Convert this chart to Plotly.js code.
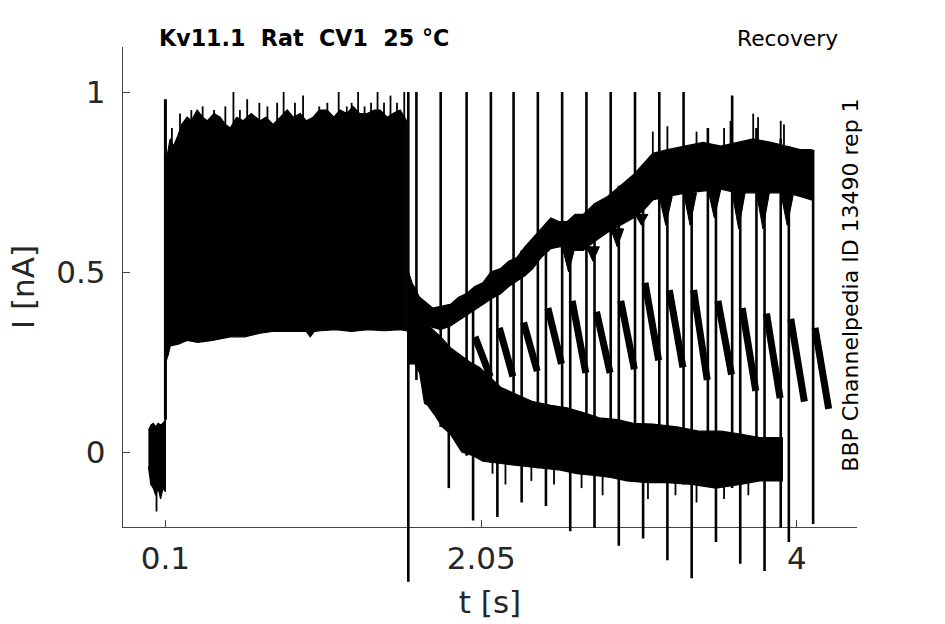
<!DOCTYPE html>
<html>
<head>
<meta charset="utf-8">
<script src="https://cdn.plot.ly/plotly-3.0.1.min.js"></script>
<style>html,body{margin:0;padding:0;background:#fff;}#chart{width:945px;height:624px;}</style>
</head>
<body>
<div id="chart"></div>
<script>
// ---------- data (t in s, I in nA) ----------
// holding current before the prepulse
const preT  = [-0.005, 0.01, 0.025, 0.04, 0.055, 0.07, 0.085, 0.1];
const preHi = [0.06, 0.075, 0.08, 0.07, 0.08, 0.075, 0.08, 0.09];
const preLo = [-0.04, -0.09, -0.1, -0.12, -0.1, -0.13, -0.1, -0.11];

// prepulse envelope (all sweeps overlaid)
const pulseTopT = [0.102,0.115,0.129,0.15,0.178,0.2,0.234,0.26,0.296,0.33,0.358,0.40,0.438,0.47,0.50,0.54,0.58,0.63,0.685,0.72,0.765,0.81,0.852,0.89,0.932,0.97,1.012,1.05,1.099,1.14,1.179,1.22,1.259,1.30,1.346,1.39,1.426,1.47,1.505,1.55,1.59];
const pulseTop  = [0.80,0.84,0.87,0.85,0.88,0.91,0.93,0.92,0.95,0.93,0.92,0.94,0.93,0.91,0.90,0.93,0.92,0.94,0.92,0.93,0.91,0.93,0.95,0.93,0.94,0.92,0.93,0.95,0.95,0.93,0.95,0.94,0.96,0.94,0.94,0.95,0.95,0.93,0.94,0.95,0.92];
const pulseBotT = [0.102,0.117,0.13,0.18,0.234,0.30,0.39,0.44,0.50,0.59,0.685,0.76,0.85,0.97,0.994,1.02,1.06,1.15,1.25,1.35,1.45,1.55,1.59];
const pulseBot  = [0.25,0.27,0.295,0.30,0.31,0.305,0.31,0.315,0.32,0.32,0.33,0.335,0.335,0.335,0.32,0.335,0.337,0.34,0.335,0.34,0.337,0.34,0.337];

// recovered sweeps (rising band)
const riseT   = [1.60,1.63,1.67,1.72,1.75,1.80,1.86,1.91,1.96,2.01,2.06,2.11,2.17,2.22,2.27,2.32,2.37,2.42,2.48,2.53,2.58,2.63,2.68,2.75,2.83,2.91,2.99,3.05,3.11,3.20,3.32,3.42,3.53,3.63,3.73,3.84,3.94,4.02,4.09];
const riseTop = [0.50,0.46,0.43,0.41,0.40,0.405,0.41,0.43,0.44,0.46,0.47,0.50,0.51,0.53,0.54,0.57,0.595,0.62,0.65,0.64,0.64,0.66,0.66,0.69,0.71,0.74,0.77,0.80,0.83,0.84,0.85,0.86,0.85,0.86,0.87,0.86,0.85,0.84,0.84];
const riseBot = [0.40,0.38,0.37,0.35,0.345,0.34,0.35,0.365,0.38,0.395,0.41,0.425,0.44,0.46,0.475,0.49,0.51,0.54,0.565,0.57,0.57,0.56,0.56,0.585,0.61,0.63,0.65,0.67,0.70,0.71,0.72,0.725,0.73,0.72,0.72,0.72,0.72,0.71,0.70];
// short dips of the rising band between each step-on and step-off
const riseDipT0 = [2.55,2.70,2.85,3.00,3.15,3.30,3.45,3.60,3.75,3.90];
const riseDipT1 = [2.63,2.78,2.93,3.08,3.23,3.38,3.53,3.68,3.83,3.98];
const riseDipHi = [0.57,0.57,0.62,0.66,0.71,0.72,0.73,0.72,0.72,0.72];
const riseDipLo = [0.50,0.53,0.57,0.63,0.63,0.63,0.65,0.62,0.62,0.63];

// deactivating tail (decaying band)
const tailTopT = [1.60,1.62,1.65,1.67,1.70,1.74,1.80,1.86,1.92,1.98,2.04,2.10,2.17,2.27,2.37,2.48,2.58,2.68,2.78,2.89,2.99,3.11,3.26,3.40,3.53,3.65,3.77,3.91];
const tailTop  = [0.50,0.47,0.45,0.42,0.38,0.345,0.32,0.29,0.27,0.25,0.235,0.21,0.18,0.16,0.14,0.13,0.123,0.11,0.095,0.09,0.08,0.078,0.07,0.058,0.058,0.05,0.04,0.04];
const tailBotT = [1.60,1.64,1.67,1.68,1.70,1.72,1.76,1.81,1.86,1.93,2.00,2.06,2.15,2.23,2.33,2.43,2.54,2.64,2.75,2.85,2.95,3.08,3.20,3.35,3.50,3.65,3.77,3.91];
const tailBot  = [0.245,0.245,0.22,0.20,0.135,0.13,0.105,0.07,0.05,0.0,-0.01,-0.025,-0.03,-0.035,-0.04,-0.045,-0.05,-0.06,-0.065,-0.07,-0.08,-0.085,-0.085,-0.09,-0.10,-0.09,-0.08,-0.08];

// saw-tooth sweep: start of each tooth, its peak, end time and end value
const toothT0   = [2.00,2.15,2.30,2.45,2.60,2.75,2.90,3.05,3.20,3.35,3.50,3.65,3.80,3.95,4.10];
const toothPeak = [0.32,0.345,0.36,0.40,0.42,0.39,0.42,0.47,0.45,0.45,0.42,0.40,0.385,0.37,0.345];
const toothT1   = [2.11,2.25,2.40,2.55,2.70,2.85,3.00,3.15,3.30,3.45,3.60,3.75,3.90,4.05,4.20];
const toothEnd  = [0.21,0.21,0.225,0.245,0.22,0.22,0.23,0.255,0.235,0.20,0.215,0.17,0.15,0.14,0.12];

// step-on transients (upward) and step-off transients (downward)
const upT  = [1.65,1.80,1.96,2.11,2.25,2.40,2.55,2.70,2.85,3.00,3.15,3.30,3.45,3.60,3.75,3.90];
const upLo = [0.20,0.07,-0.01,-0.03,-0.035,-0.045,-0.05,-0.06,-0.07,-0.08,-0.085,-0.09,-0.095,-0.10,-0.08,-0.21];
const upHi = [1.0,1.0,1.0,1.0,1.0,1.0,1.0,1.0,1.0,1.0,1.0,1.0,0.90,0.99,0.90,0.87];
const dnT  = [1.60,1.85,2.00,2.15,2.30,2.45,2.60,2.75,2.90,3.05,3.20,3.35,3.50,3.65,3.80,3.95,4.10];
const dnHi = [1.0,0.41,0.45,0.50,0.56,0.63,0.64,0.69,0.74,0.80,0.84,0.85,0.85,0.86,0.86,0.85,0.84];
const dnLo = [-0.36,-0.10,-0.19,-0.18,-0.14,-0.15,-0.22,-0.21,-0.26,-0.24,-0.30,-0.35,-0.25,-0.31,-0.33,-0.25,-0.20];

// onset transient of the prepulse
const onT = [0.1], onLo = [0.09], onHi = [0.98];

// noise peaks above the envelopes
const peakT  = [0.14,0.19,0.26,0.33,0.40,0.47,0.52,0.56,0.605,0.68,0.73,0.79,0.83,0.90,0.95,1.05,1.10,1.17,1.22,1.25,1.29,1.33,1.37,1.41,1.45,1.49,1.53,1.575, 3.11,3.20,3.38,3.45,3.55,3.59,3.73,3.76,3.90,3.92];
const peakLo = [0.85,0.88,0.90,0.90,0.90,0.90,0.90,0.90,0.90,0.90,0.90,0.90,0.90,0.90,0.90,0.90,0.90,0.90,0.90,0.90,0.90,0.90,0.90,0.90,0.90,0.90,0.90,0.90, 0.82,0.82,0.84,0.84,0.84,0.84,0.84,0.84,0.84,0.84];
const peakHi = [0.90,0.94,0.95,0.96,0.95,0.96,1.0,0.95,0.98,0.97,0.96,0.97,1.0,0.97,0.99,0.96,0.97,1.0,0.96,0.97,1.0,0.96,0.97,1.0,0.97,0.99,0.97,1.0, 0.89,0.905,0.89,0.90,0.90,0.92,0.94,0.93,0.92,0.91];
// noise dips below the tail
const dipT  = [0.045,2.12,2.20,2.36,2.50,2.67,2.80,3.08,3.25,3.38,3.55,3.70];
const dipHi = [-0.08,-0.02,-0.03,-0.04,-0.04,-0.05,-0.06,-0.07,-0.07,-0.08,-0.09,-0.08];
const dipLo = [-0.165,-0.06,-0.09,-0.08,-0.09,-0.10,-0.12,-0.13,-0.12,-0.14,-0.13,-0.12];

// ---------- build traces ----------
const K = '#000000';
const IN = {xaxis: 'x', yaxis: 'y'};    // marks inside the axes box
const OUT = {xaxis: 'x', yaxis: 'y2'};  // same scale, allowed to reach below the x-axis line
function band(tTop, vTop, tBot, vBot) {
  return Object.assign({x: tTop.concat(tBot.slice().reverse()), y: vTop.concat(vBot.slice().reverse()),
          mode: 'lines', fill: 'toself', fillcolor: K, line: {color: K, width: 1.2}, hoverinfo: 'skip'}, IN);
}
function segs(t, lo, hi, w, ax) {
  const x = [], y = [];
  for (let i = 0; i < t.length; i++) { x.push(t[i], t[i], null); y.push(lo[i], hi[i], null); }
  return Object.assign({x: x, y: y, mode: 'lines', line: {color: K, width: w}, hoverinfo: 'skip'}, ax);
}
function wedges(t0, t1, hi, lo) {
  const x = [], y = [];
  for (let i = 0; i < t0.length; i++) {
    x.push(t0[i], (t0[i] + t1[i]) / 2, t1[i], t0[i], null);
    y.push(hi[i], lo[i], hi[i], hi[i], null);
  }
  return Object.assign({x: x, y: y, mode: 'lines', fill: 'toself', fillcolor: K,
                        line: {color: K, width: 1}, hoverinfo: 'skip'}, IN);
}
function teeth() {
  const x = [], y = [];
  for (let i = 0; i < toothT0.length; i++) {
    x.push(toothT0[i] + 0.012, toothT1[i] - 0.004, null);
    y.push(toothPeak[i], toothEnd[i], null);
  }
  return Object.assign({x: x, y: y, mode: 'lines', line: {color: K, width: 7}, hoverinfo: 'skip'}, IN);
}

const data = [
  band(preT, preHi, preT, preLo),
  band(pulseTopT, pulseTop, pulseBotT, pulseBot),
  band(riseT, riseTop, riseT, riseBot),
  wedges(riseDipT0, riseDipT1, riseDipHi, riseDipLo),
  band(tailTopT, tailTop, tailBotT, tailBot),
  teeth(),
  segs(onT, onLo, onHi, 3, IN),
  segs(peakT, peakLo, peakHi, 1.8, IN),
  segs(upT, upLo, upHi, 2.6, OUT),
  segs(dnT, dnLo, dnHi, 2.6, OUT),
  segs(dipT, dipLo, dipHi, 1.8, OUT)
];

// ---------- layout ----------
const W = 945, H = 624, MT = 47, MB = 36, AXIS_BOTTOM_PX = 527;
const Y_RANGE = [-0.208, 1.125];
const plotH = H - MT - MB;
const d0 = (H - MB - AXIS_BOTTOM_PX) / plotH;                 // visible y-axis starts at the x-axis line
const pxPerUnit = (AXIS_BOTTOM_PX - MT) / (Y_RANGE[1] - Y_RANGE[0]);
const y2Low = Y_RANGE[1] - plotH / pxPerUnit;                 // same scale, extended below

const FONT = 'DejaVu Sans, Verdana, sans-serif';
const TXT = '#262626';
const layout = {
  width: W, height: H,
  margin: {l: 123, r: 88, t: MT, b: MB, pad: 0},
  paper_bgcolor: '#fff', plot_bgcolor: 'rgba(0,0,0,0)',
  showlegend: false,
  font: {family: FONT, color: TXT},
  xaxis: {
    anchor: 'y',
    range: [-0.162, 4.371], tickvals: [0.1, 2.05, 4], ticktext: ['0.1', '2.05', '4'],
    ticks: 'inside', ticklen: 7, tickwidth: 1, tickcolor: '#444',
    showline: true, linecolor: '#444', linewidth: 1.2, mirror: false,
    showgrid: false, zeroline: false,
    tickfont: {family: FONT, size: 31, color: TXT},
    ticklabelstandoff: 4,
    title: {text: 't [s]', font: {family: FONT, size: 31, color: TXT}, standoff: 15}
  },
  yaxis: {
    domain: [d0, 1], anchor: 'x',
    range: Y_RANGE, tickvals: [0, 0.5, 1], ticktext: ['0', '0.5', '1'],
    ticks: 'inside', ticklen: 7, tickwidth: 1, tickcolor: '#444',
    showline: true, linecolor: '#444', linewidth: 1.2, mirror: false,
    showgrid: false, zeroline: false,
    tickfont: {family: FONT, size: 31, color: TXT},
    ticklabelstandoff: 10,
    title: {text: 'I [nA]', font: {family: FONT, size: 31, color: TXT}, standoff: 12}
  },
  yaxis2: {
    domain: [0, 1], anchor: 'x', range: [y2Low, Y_RANGE[1]], visible: false,
    showgrid: false, zeroline: false
  },
  annotations: [
    {text: '<b>Kv11.1\u00a0\u00a0Rat\u00a0\u00a0CV1\u00a0\u00a025 °C</b>', xref: 'paper', yref: 'paper',
     x: 0.0465, y: 1, xanchor: 'left', yanchor: 'bottom', yshift: -6, showarrow: false,
     font: {family: FONT, size: 22.2, color: '#000'}},
    {text: 'Recovery', xref: 'paper', yref: 'paper',
     x: 0.834, y: 1, xanchor: 'left', yanchor: 'bottom', yshift: -6, showarrow: false,
     font: {family: FONT, size: 21.8, color: '#000'}},
    {text: 'BBP Channelpedia ID 13490 rep 1', xref: 'paper', yref: 'paper',
     x: 0.990, y: (H - MB - 285) / plotH, xanchor: 'center', yanchor: 'middle', textangle: -90, showarrow: false,
     font: {family: FONT, size: 22, color: '#000'}}
  ]
};

Plotly.newPlot('chart', data, layout, {staticPlot: true, displayModeBar: false});
</script>
</body>
</html>
